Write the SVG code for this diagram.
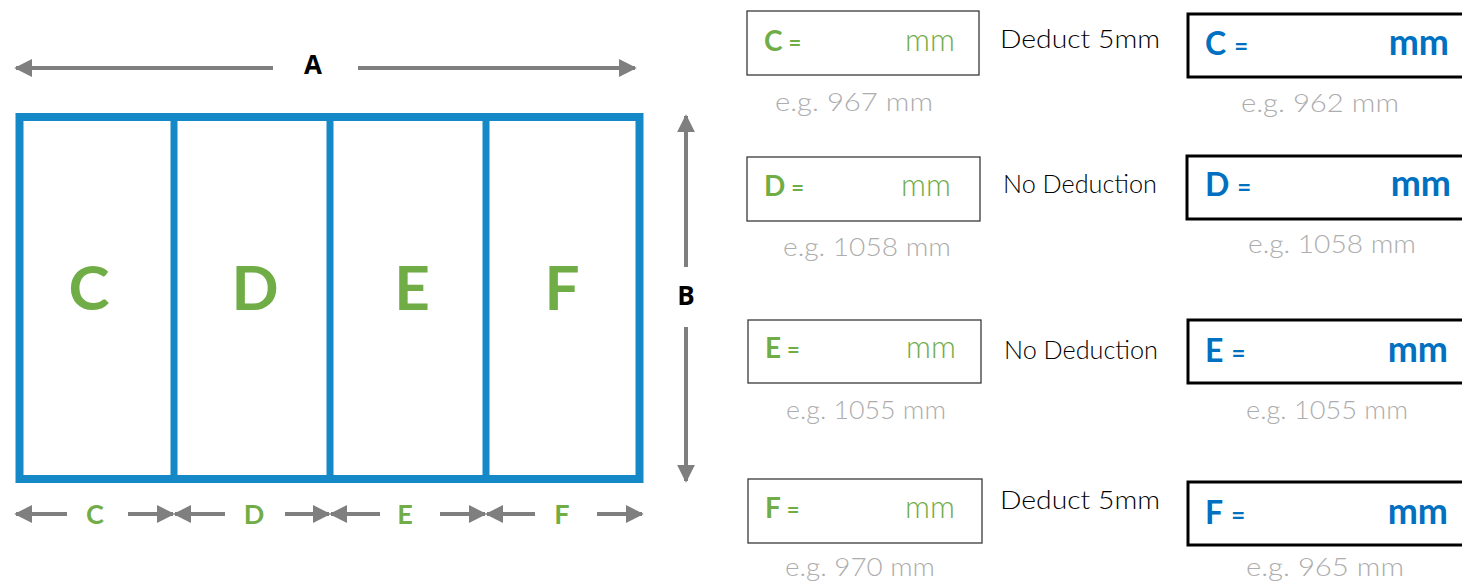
<svg xmlns="http://www.w3.org/2000/svg" width="1462" height="585" viewBox="0 0 1462 585">
<style>
.frame{fill:none;stroke:#1589C8;stroke-width:8}
.div{stroke:#1589C8;stroke-width:7}
.dim{stroke:#7F7F7F;stroke-width:4;fill:none}
.big{font-family:Lato,"Noto Sans",sans-serif;font-weight:bold;font-size:62px;fill:#70AD47;text-anchor:middle}
.dl{font-family:Lato,"Noto Sans",sans-serif;font-weight:bold;font-size:27px;fill:#70AD47;text-anchor:middle}
.ab{font-family:"Open Sans","Noto Sans",sans-serif;font-weight:bold;font-size:26px;fill:#000;text-anchor:middle}
.lbox{fill:#fff;stroke:#3a3a3a;stroke-width:1.3}
.rbox{fill:#fff;stroke:#000;stroke-width:3}
.gl{font-family:Lato,"Noto Sans",sans-serif;font-weight:bold;fill:#70AD47}
.gm{font-family:Lato,"Noto Sans",sans-serif;font-weight:300;fill:#70AD47;font-size:31px}
.bl{font-family:Lato,"Noto Sans",sans-serif;font-weight:bold;fill:#0070C0}
.eg{font-family:Lato,"Noto Sans",sans-serif;font-weight:300;font-size:25px;fill:#ADADAD;text-anchor:middle}
.mid{font-family:Lato,"Noto Sans",sans-serif;font-weight:300;font-size:25px;fill:#000;text-anchor:middle}
</style>
<defs>
<marker id="ah" viewBox="0 0 10 10" refX="9" refY="5" markerWidth="4.5" markerHeight="4.5" orient="auto-start-reverse">
<path d="M0,0 L10,5 L0,10 Z" fill="#7F7F7F"/>
</marker>
</defs>
<g id="frame">
<rect class="frame" x="19.5" y="117" width="620" height="362"/>
<line class="div" x1="174" y1="117" x2="174" y2="479"/>
<line class="div" x1="330" y1="117" x2="330" y2="479"/>
<line class="div" x1="486" y1="117" x2="486" y2="479"/>
<text class="big" x="89" y="310">C</text>
<text class="big" x="255" y="310">D</text>
<text class="big" x="412" y="310">E</text>
<text class="big" x="562" y="310">F</text>
</g>
<g id="connectors">
<line class="dim" x1="273" y1="68" x2="16" y2="68" marker-end="url(#ah)"/>
<line class="dim" x1="358" y1="68" x2="635" y2="68" marker-end="url(#ah)"/>
<line class="dim" x1="686" y1="267" x2="686" y2="116" marker-end="url(#ah)"/>
<line class="dim" x1="686" y1="327" x2="686" y2="481" marker-end="url(#ah)"/>
<line class="dim" x1="67" y1="514" x2="16" y2="514" marker-end="url(#ah)"/>
<line class="dim" x1="128" y1="514" x2="173" y2="514" marker-end="url(#ah)"/>
<line class="dim" x1="225" y1="514" x2="175" y2="514" marker-end="url(#ah)"/>
<line class="dim" x1="285" y1="514" x2="329" y2="514" marker-end="url(#ah)"/>
<line class="dim" x1="380" y1="514" x2="331" y2="514" marker-end="url(#ah)"/>
<line class="dim" x1="440" y1="514" x2="485" y2="514" marker-end="url(#ah)"/>
<line class="dim" x1="535" y1="514" x2="487" y2="514" marker-end="url(#ah)"/>
<line class="dim" x1="597" y1="514" x2="642" y2="514" marker-end="url(#ah)"/>
</g>
<g id="dim-labels">
<text class="ab" x="313" y="74">A</text>
<text class="ab" x="686" y="305">B</text>
<text class="dl" x="95" y="524">C</text>
<text class="dl" x="254" y="524">D</text>
<text class="dl" x="405" y="524">E</text>
<text class="dl" x="562" y="524">F</text>
</g>
<g id="left-C">
<rect class="lbox" x="747" y="11" width="232" height="64"/>
<text class="gl" x="764" y="51"><tspan font-size="28">C</tspan><tspan font-size="22" dx="6">=</tspan></text>
<text class="gm" x="955" y="51" text-anchor="end">mm</text>
<text class="eg" x="854" y="111" textLength="158" lengthAdjust="spacingAndGlyphs">e.g. 967  mm</text>
</g>
<g id="left-D">
<rect class="lbox" x="747" y="157" width="233" height="64"/>
<text class="gl" x="764" y="196"><tspan font-size="28">D</tspan><tspan font-size="22" dx="6">=</tspan></text>
<text class="gm" x="951" y="196" text-anchor="end">mm</text>
<text class="eg" x="867" y="256" textLength="168" lengthAdjust="spacingAndGlyphs">e.g. 1058  mm</text>
</g>
<g id="left-E">
<rect class="lbox" x="748" y="320" width="233" height="63"/>
<text class="gl" x="765" y="358"><tspan font-size="28">E</tspan><tspan font-size="22" dx="6">=</tspan></text>
<text class="gm" x="956" y="358" text-anchor="end">mm</text>
<text class="eg" x="866" y="419" textLength="160" lengthAdjust="spacingAndGlyphs">e.g. 1055 mm</text>
</g>
<g id="left-F">
<rect class="lbox" x="748" y="479" width="234" height="64"/>
<text class="gl" x="765" y="518"><tspan font-size="28">F</tspan><tspan font-size="22" dx="6">=</tspan></text>
<text class="gm" x="955" y="518" text-anchor="end">mm</text>
<text class="eg" x="860" y="576" textLength="150" lengthAdjust="spacingAndGlyphs">e.g. 970 mm</text>
</g>
<g id="mid-labels">
<text class="mid" x="1080" y="48" textLength="160" lengthAdjust="spacingAndGlyphs">Deduct 5mm</text>
<text class="mid" x="1080" y="193" textLength="154" lengthAdjust="spacingAndGlyphs">No Deduction</text>
<text class="mid" x="1081" y="359" textLength="154" lengthAdjust="spacingAndGlyphs">No Deduction</text>
<text class="mid" x="1080" y="509" textLength="160" lengthAdjust="spacingAndGlyphs">Deduct 5mm</text>
</g>
<g id="right-C">
<rect class="rbox" x="1188" y="14" width="290" height="63"/>
<text class="bl" x="1205" y="55"><tspan font-size="32">C</tspan><tspan font-size="24" dx="8">=</tspan></text>
<text class="bl" x="1449" y="55" font-size="36" text-anchor="end">mm</text>
<text class="eg" x="1320" y="112" textLength="158" lengthAdjust="spacingAndGlyphs">e.g. 962  mm</text>
</g>
<g id="right-D">
<rect class="rbox" x="1187" y="156" width="290" height="63"/>
<text class="bl" x="1205" y="196"><tspan font-size="32">D</tspan><tspan font-size="24" dx="8">=</tspan></text>
<text class="bl" x="1451" y="196" font-size="36" text-anchor="end">mm</text>
<text class="eg" x="1332" y="253" textLength="168" lengthAdjust="spacingAndGlyphs">e.g. 1058  mm</text>
</g>
<g id="right-E">
<rect class="rbox" x="1188" y="320" width="290" height="63"/>
<text class="bl" x="1205" y="362"><tspan font-size="32">E</tspan><tspan font-size="24" dx="8">=</tspan></text>
<text class="bl" x="1448" y="362" font-size="36" text-anchor="end">mm</text>
<text class="eg" x="1327" y="419" textLength="162" lengthAdjust="spacingAndGlyphs">e.g. 1055 mm</text>
</g>
<g id="right-F">
<rect class="rbox" x="1188" y="482" width="290" height="63"/>
<text class="bl" x="1205" y="524"><tspan font-size="32">F</tspan><tspan font-size="24" dx="8">=</tspan></text>
<text class="bl" x="1448" y="524" font-size="36" text-anchor="end">mm</text>
<text class="eg" x="1325" y="576" textLength="158" lengthAdjust="spacingAndGlyphs">e.g. 965  mm</text>
</g>
</svg>
